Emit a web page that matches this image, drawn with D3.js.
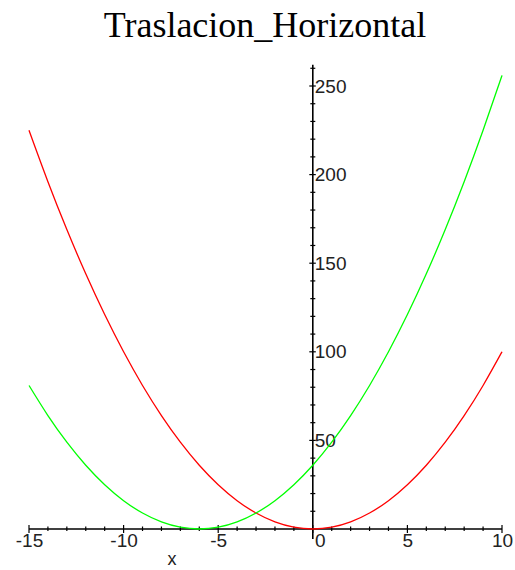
<!DOCTYPE html>
<html>
<head>
<meta charset="utf-8">
<script src="https://cdn.jsdelivr.net/npm/d3@7"></script>
<style>
  html, body { margin: 0; padding: 0; background: #ffffff; }
  svg { display: block; }
</style>
</head>
<body>
<script>
// ---- data ----
const title = "Traslacion_Horizontal";
const xLabel = "x";
const xValues = [-15,-14,-13,-12,-11,-10,-9,-8,-7,-6,-5,-4,-3,-2,-1,0,1,2,3,4,5,6,7,8,9,10];
const redValues = [225,196,169,144,121,100,81,64,49,36,25,16,9,4,1,0,1,4,9,16,25,36,49,64,81,100];
const greenValues = [81,64,49,36,25,16,9,4,1,0,1,4,9,16,25,36,49,64,81,100,121,144,169,196,225,256];
const xMajorTicks = [-15,-10,-5,0,5,10];
const xMinorTicks = [-14,-13,-12,-11,-9,-8,-7,-6,-4,-3,-2,-1,1,2,3,4,6,7,8,9];
const yMajorTicks = [50,100,150,200,250];
const yMinorTicks = [10,20,30,40,60,70,80,90,110,120,130,140,160,170,180,190,210,220,230,240,260];
const yAxisTop = 262;

// ---- layout ----
const W = 515, H = 570;
const svg = d3.select("body").append("svg").attr("width", W).attr("height", H);
svg.append("rect").attr("width", W).attr("height", H).attr("fill", "#fff");

const x = d3.scaleLinear().domain([-15, 10]).range([29, 502]);
const y = d3.scaleLinear().domain([0, 250]).range([529, 86]);

// title
svg.append("text")
  .attr("x", 265).attr("y", 37)
  .attr("text-anchor", "middle")
  .attr("font-family", "Liberation Serif, Times New Roman, serif")
  .attr("font-size", 36)
  .attr("fill", "#000")
  .text(title);

const axisColor = "#000";
const axisW = 1.6;

// x axis line
svg.append("line")
  .attr("x1", x(-15)).attr("x2", x(10))
  .attr("y1", y(0)).attr("y2", y(0))
  .attr("stroke", axisColor).attr("stroke-width", axisW);
// y axis line
svg.append("line")
  .attr("x1", x(0)).attr("x2", x(0))
  .attr("y1", y(yAxisTop)).attr("y2", y(0) + 10)
  .attr("stroke", axisColor).attr("stroke-width", axisW);

// x ticks
svg.append("g").selectAll("line").data(xMajorTicks).join("line")
  .attr("x1", d => x(d)).attr("x2", d => x(d))
  .attr("y1", y(0) - 4).attr("y2", y(0) + 4)
  .attr("stroke", axisColor).attr("stroke-width", 1.2);
svg.append("g").selectAll("line").data(xMinorTicks).join("line")
  .attr("x1", d => x(d)).attr("x2", d => x(d))
  .attr("y1", y(0) - 2.5).attr("y2", y(0) + 2)
  .attr("stroke", axisColor).attr("stroke-width", 1.2);

// y ticks
svg.append("g").selectAll("line").data(yMajorTicks).join("line")
  .attr("x1", x(0) - 3.5).attr("x2", x(0) + 3)
  .attr("y1", d => y(d)).attr("y2", d => y(d))
  .attr("stroke", axisColor).attr("stroke-width", 1.2);
svg.append("g").selectAll("line").data(yMinorTicks).join("line")
  .attr("x1", x(0) - 2.5).attr("x2", x(0) + 2.5)
  .attr("y1", d => y(d)).attr("y2", d => y(d))
  .attr("stroke", axisColor).attr("stroke-width", 1.2);

// tick labels via d3 axes (tick lines hidden)
const fontFam = "Liberation Sans, Arial, sans-serif";
const labelColor = "#222";
const xAxisG = svg.append("g")
  .attr("transform", `translate(0,${y(0)})`)
  .call(d3.axisBottom(x).tickValues(xMajorTicks).tickSize(0).tickPadding(0).tickFormat(d => String(d)));
xAxisG.select(".domain").remove();
xAxisG.selectAll("text")
  .attr("font-family", fontFam).attr("font-size", 19).attr("fill", labelColor)
  .attr("dy", null).attr("y", 18)
  .attr("x", d => d === 0 ? 7 : 0);

const yAxisG = svg.append("g")
  .attr("transform", `translate(${x(0)},0)`)
  .call(d3.axisRight(y).tickValues(yMajorTicks).tickSize(0).tickPadding(0).tickFormat(d => String(d)));
yAxisG.select(".domain").remove();
yAxisG.selectAll("text")
  .attr("font-family", fontFam).attr("font-size", 19).attr("fill", labelColor)
  .attr("x", 2).attr("dy", null).attr("y", 6);

// axis label
svg.append("text")
  .attr("x", 172).attr("y", 565)
  .attr("text-anchor", "middle")
  .attr("font-family", fontFam).attr("font-size", 18)
  .attr("fill", labelColor)
  .text(xLabel);

// curves
const line = (vals) => d3.line()
  .x((d, i) => x(xValues[i]))
  .y(d => y(d))
  .curve(d3.curveNatural)(vals);

svg.append("path").attr("d", line(redValues))
  .attr("fill", "none").attr("stroke", "#ff0000").attr("stroke-width", 1.3);
svg.append("path").attr("d", line(greenValues))
  .attr("fill", "none").attr("stroke", "#00ff00").attr("stroke-width", 1.3);
</script>
</body>
</html>
